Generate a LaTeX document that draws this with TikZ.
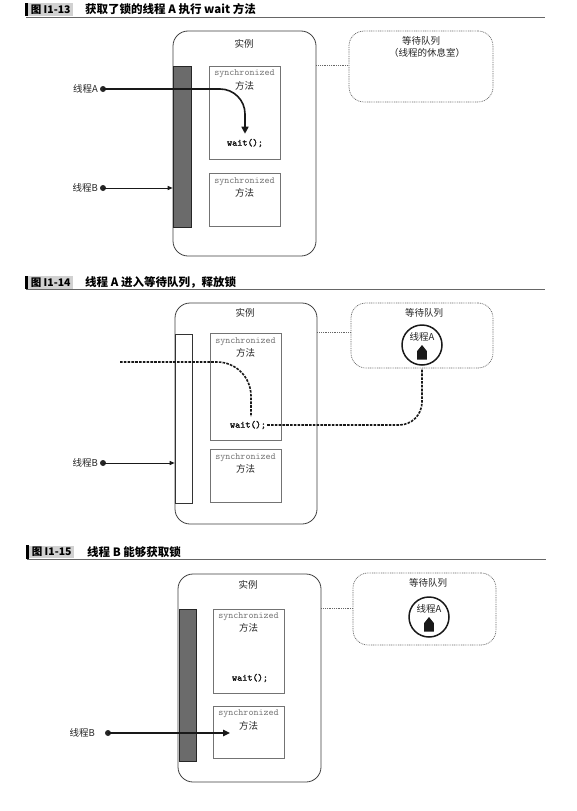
\documentclass[tikz,border=0pt]{standalone}
\usepackage{fontspec}
\setmainfont{Noto Sans CJK SC}
\newfontfamily\waitfont{lmmono10-regular.otf}[FakeBold=2.2]
\usetikzlibrary{arrows.meta,fit}
\begin{document}
\begin{tikzpicture}[x=1pt,y=-1pt,
  inst/.style={draw=black!75, line width=0.8pt, rounded corners=15pt, inner sep=0pt},
  queue/.style={draw=black!60, line width=0.7pt, dash pattern=on 0.9pt off 0.9pt, rounded corners=15pt, inner sep=0pt},
  link/.style={draw=black!60, line width=0.6pt, dash pattern=on 0.9pt off 0.9pt},
  lockbar/.style={draw=black!85, line width=0.6pt, fill=black!58, inner sep=0pt},
  lockfree/.style={draw=black!80, line width=0.6pt, fill=white, inner sep=0pt},
  syncbox/.style={draw=black!55, line width=0.6pt, inner sep=0pt},
  lbl/.style={font=\fontsize{9.5}{11}\selectfont, text=black!85, inner sep=0pt},
  mono/.style={font=\fontsize{9.6}{10}\selectfont\ttfamily, text=black!55, inner sep=0pt},
  waitlbl/.style={font=\fontsize{9.8}{10}\selectfont\waitfont, text=black!90, inner sep=0pt},
  tdot/.style={circle, fill=black!85, inner sep=0pt, minimum size=6pt},
  thrcirc/.style={circle, draw=black!90, line width=1.5pt, minimum size=40pt, inner sep=0pt},
  hdrbox/.style={fill=black!18, inner sep=0pt, minimum height=12.5pt, minimum width=45pt, anchor=west, font=\bfseries\fontsize{10.5}{11}\selectfont},
  hdrbar/.style={fill=black, inner sep=0pt, minimum width=3pt, minimum height=13.5pt, anchor=east},
  hdrtitle/.style={anchor=west, inner sep=0pt, font=\bfseries\fontsize{11.5}{12}\selectfont},
  hrule/.style={draw=black!60, line width=0.8pt},
  arrA/.style={draw=black!90, line width=1.6pt, -{Triangle[length=7pt,width=7pt]}},
  arrB/.style={draw=black!90, line width=1pt, -{Triangle[length=5pt,width=4pt]}},
  arrB3/.style={draw=black!90, line width=1.3pt, -{Triangle[length=7pt,width=6.5pt]}},
  dashpath/.style={draw=black!90, line width=1.6pt, dash pattern=on 2.6pt off 1.2pt}
]
\useasboundingbox[fill=white] (0,0) rectangle (577,811);

% ================= Panel 1 =================
\node[hdrbox] (h1) at (28,9.5) {图 I1-13};
\node[hdrbar] (hb1) at (h1.west) {};
\node[hdrtitle] (ht1) at (85,9.5) {获取了锁的线程 A 执行 wait 方法};
\draw[hrule] (26,17) -- (545,17);

\node[inst, fit={(173,31) (316,256)}] (inst1) {};
\node[lbl] (il1) at (244,44) {实例};
\node[queue, fit={(349,31) (493,102)}] (queue1) {};
\node[lbl] (ql1) at (421,41) {等待队列};
\node[lbl] (ql1b) at (427,53) {（线程的休息室）};
\node[lockbar, fit={(173,66) (191,227)}] (lock1) {};
\node[syncbox, fit={(209,66) (280,159)}] (sa1) {};
\node[mono] at (244.5,74) {synchronized};
\node[lbl] at (244.5,86) {方法};
\node[waitlbl] (wait1) at (245,143) {wait();};
\node[syncbox, fit={(209,173) (280,226)}] (sb1) {};
\node[mono] at (244.5,182) {synchronized};
\node[lbl] at (244.5,193) {方法};
\draw[link] (sa1.north -| inst1.east) -- (sa1.north -| queue1.west);

\node[lbl, anchor=east] (ta1) at (98,89) {线程A};
\node[tdot] (da1) at (103,89) {};
\node[lbl, anchor=east] (tb1) at (98,188) {线程B};
\node[tdot] (db1) at (103,188) {};
\draw[arrA, rounded corners=25pt] (da1.center) -- (wait1.north |- da1) -- ([yshift=5pt]wait1.north);
\draw[arrB] (db1.center) -- (db1 -| lock1.west);

% ================= Panel 2 =================
\node[hdrbox] (h2) at (28,282.5) {图 I1-14};
\node[hdrbar] (hb2) at (h2.west) {};
\node[hdrtitle] (ht2) at (85,282.5) {线程 A 进入等待队列，释放锁};
\draw[hrule] (26,289) -- (545,289);

\node[inst, fit={(175,303) (317,524)}] (inst2) {};
\node[lbl] (il2) at (245,313) {实例};
\node[queue, fit={(351,303) (493,368)}] (queue2) {};
\node[lbl] (ql2) at (424,313) {等待队列};
\node[thrcirc] (circ2) at (422,345) {};
\node[lbl] (cl2) at (422,337) {线程A};
\fill[black!90, shift={(422,345)}] (-4.8,14.5) -- (4.8,14.5) -- (4.8,6) -- (0,0) -- (-4.8,6) -- cycle;
\node[lockfree, fit={(175,334) (192,503)}] (lock2) {};
\node[syncbox, fit={(210,333) (281,440)}] (sa2) {};
\node[mono] at (245.5,342) {synchronized};
\node[lbl] at (245.5,353) {方法};
\node[waitlbl] (wait2) at (248,425) {wait();};
\node[syncbox, fit={(210,449) (281,502)}] (sb2) {};
\node[mono] at (245.5,458) {synchronized};
\node[lbl] at (245.5,469) {方法};
\draw[link] (sa2.north -| inst2.east) -- (sa2.north -| queue2.west);

\coordinate (sA2) at (120,362);
\draw[dashpath, rounded corners=34pt] (sA2) -- ([xshift=3pt]wait2.north |- sA2) -- ([xshift=3pt,yshift=4pt]wait2.north);
\draw[dashpath, rounded corners=23pt] ([xshift=1pt]wait2.east) -- (circ2 |- wait2.east) -- (circ2 |- queue2.south);

\node[lbl, anchor=east] (tb2) at (98,463) {线程B};
\node[tdot] (db2) at (103,463) {};
\draw[arrB] (db2.center) -- (db2 -| lock2.west);

% ================= Panel 3 =================
\node[hdrbox] (h3) at (29,552) {图 I1-15};
\node[hdrbar] (hb3) at (h3.west) {};
\node[hdrtitle] (ht3) at (87,552) {线程 B 能够获取锁};
\draw[hrule] (27,559) -- (546,559);

\node[inst, fit={(178,574) (321,782)}] (inst3) {};
\node[lbl] (il3) at (248,585) {实例};
\node[queue, fit={(353,573) (496,645)}] (queue3) {};
\node[lbl] (ql3) at (428,583) {等待队列};
\node[thrcirc] (circ3) at (429,617) {};
\node[lbl] (cl3) at (429,609) {线程A};
\fill[black!90, shift={(429,617)}] (-4.8,14.5) -- (4.8,14.5) -- (4.8,6) -- (0,0) -- (-4.8,6) -- cycle;
\node[lockbar, fit={(179,609) (196,761)}] (lock3) {};
\node[syncbox, fit={(213,609) (284,693)}] (sa3) {};
\node[mono] at (248.5,617) {synchronized};
\node[lbl] at (248.5,628) {方法};
\node[waitlbl] (wait3) at (250,678) {wait();};
\node[syncbox, fit={(213,706) (284,758)}] (sb3) {};
\node[mono] at (248.5,714) {synchronized};
\node[lbl] at (248.5,726) {方法};
\draw[link] (sa3.north -| inst3.east) -- (sa3.north -| queue3.west);

\node[lbl, anchor=east] (tb3) at (95,733) {线程B};
\node[tdot] (db3) at (108,733) {};
\coordinate (tip3) at (230,733);
\draw[arrB3] (db3.center) -- (tip3);
\end{tikzpicture}
\end{document}
